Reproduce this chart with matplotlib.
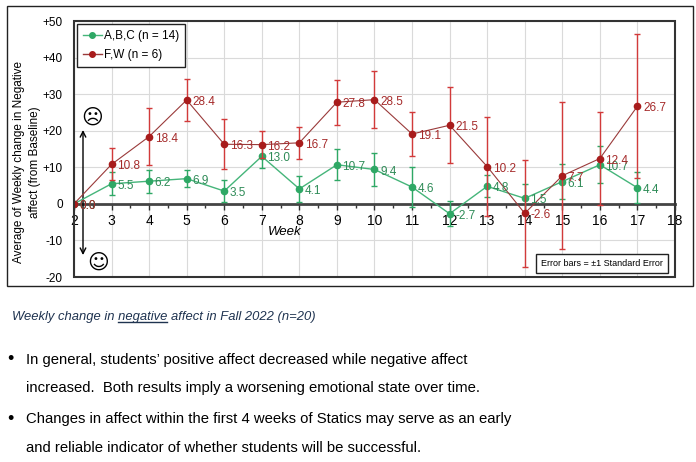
import matplotlib
matplotlib.use("Agg")
import matplotlib.pyplot as plt
from matplotlib.patches import Rectangle
from matplotlib.lines import Line2D
import numpy as np

plt.rcParams['font.family'] = ['Liberation Sans', 'DejaVu Sans']

# data
weeks = [2, 3, 4, 5, 6, 7, 8, 9, 10, 11, 12, 13, 14, 15, 16, 17]
abc = [0.0, 5.5, 6.2, 6.9, 3.5, 13.0, 4.1, 10.7, 9.4, 4.6, -2.7, 4.8, 1.5, 6.1, 10.7, 4.4]
abc_se = [0.0, 3.2, 3.1, 2.4, 3.1, 3.3, 3.6, 4.2, 4.5, 5.5, 3.4, 3.0, 3.9, 4.7, 5.0, 4.2]
fw = [0.0, 10.8, 18.4, 28.4, 16.3, 16.2, 16.7, 27.8, 28.5, 19.1, 21.5, 10.2, -2.6, 7.7, 12.4, 26.7]
fw_se = [0.0, 4.4, 7.7, 5.8, 6.8, 3.7, 4.4, 6.1, 7.7, 5.9, 10.4, 13.5, 14.6, 20.1, 12.6, 19.7]
abc_label = 'A,B,C (n = 14)'
fw_label = 'F,W (n = 6)'
yticks = [-20, -10, 0, 10, 20, 30, 40, 50]
ytick_labels = ['-20', '-10', '0', '+10', '+20', '+30', '+40', '+50']

caption = 'Weekly change in negative affect in Fall 2022 (n=20)'
bullet_lines = [
    ["In general, students\u2019 positive affect decreased while negative affect",
     "increased.  Both results imply a worsening emotional state over time."],
    ["Changes in affect within the first 4 weeks of Statics may serve as an early",
     "and reliable indicator of whether students will be successful."],
]

GREEN = '#2ea865'
GREEN_LINE = '#45b57a'
RED = '#a81c1c'
RED_LINE = '#9a3a3a'
RED_ERR = '#d23a3a'

fig = plt.figure(figsize=(6.96, 4.62), dpi=100)
ax = fig.add_axes([0.1063, 0.4004, 0.8635, 0.5541])

# outer frame round the chart
fig.add_artist(Rectangle((0.010, 0.381), 0.986, 0.606, transform=fig.transFigure,
                         fill=False, edgecolor='#222222', lw=1))

ax.errorbar(weeks, abc, yerr=abc_se, color=GREEN_LINE, ecolor=GREEN, lw=1, elinewidth=1,
            capsize=2, marker='o', ms=4.5, mfc=GREEN, mec=GREEN, zorder=3)
ax.errorbar(weeks, fw, yerr=fw_se, color=RED_LINE, ecolor=RED_ERR, lw=0.8, elinewidth=1,
            capsize=2, marker='o', ms=4.5, mfc=RED, mec=RED, zorder=4)

for w, v in zip(weeks, abc):
    ax.annotate(f'{v:.1f}', (w, v), xytext=(4, -1.5), textcoords='offset points',
                ha='left', va='center', fontsize=8.5, color='#2e8b57', zorder=5)
for w, v in zip(weeks, fw):
    ax.annotate(f'{v:.1f}', (w, v), xytext=(4, -1.5), textcoords='offset points',
                ha='left', va='center', fontsize=8.5, color='#a52a2a', zorder=5)

ax.set_xlim(2, 18)
ax.set_ylim(-20, 50)
ax.set_xticks(range(2, 19))
ax.set_xticks(np.arange(2.5, 18, 1), minor=True)
ax.set_xticklabels([str(w) for w in range(2, 19)], fontsize=9.5, style='italic')
ax.set_yticks(yticks)
ax.set_yticklabels(ytick_labels, fontsize=8.5)
ax.tick_params(axis='y', length=0, pad=8)
ax.tick_params(axis='x', which='major', length=4, width=1, color='#333333', pad=3)
ax.tick_params(axis='x', which='minor', length=3, width=1, color='#333333')
ax.grid(True, color='#dadada', lw=0.8, zorder=0)
ax.set_axisbelow(True)

for s in ['top', 'left', 'right']:
    ax.spines[s].set_visible(False)
ax.spines['bottom'].set_position(('data', 0))
ax.spines['bottom'].set_linewidth(2)
ax.spines['bottom'].set_color('#444444')
ax.add_patch(Rectangle((0, 0), 1, 1, transform=ax.transAxes, fill=False,
                       edgecolor='#333333', lw=1.5, clip_on=False, zorder=6))

ax.text(7.6, -7.8, 'Week', fontsize=9.5, style='italic', ha='center', va='center')

fig.text(0.039, 0.649, 'Average of Weekly change in Negative\naffect (from Baseline)',
         rotation=90, ha='center', va='center', fontsize=8.5, linespacing=1.45)

# arrow and faces
ax.annotate('', xy=(2.24, -14), xytext=(2.24, 20.2),
            arrowprops=dict(arrowstyle='<->', color='black', lw=1, shrinkA=0, shrinkB=0))
ax.text(2.48, 23.5, '\u2639', family='DejaVu Sans', fontsize=15, ha='center', va='center')
ax.text(2.64, -16.1, '\u263a', family='DejaVu Sans', fontsize=15, ha='center', va='center')

handles = [Line2D([], [], color=GREEN_LINE, marker='o', ms=4, mfc=GREEN, mec=GREEN, lw=1),
           Line2D([], [], color=RED_LINE, marker='o', ms=4, mfc=RED, mec=RED, lw=1)]
leg = ax.legend(handles, [abc_label, fw_label], loc='upper left', bbox_to_anchor=(0.005, 0.988),
                borderaxespad=0, fontsize=8.5, fancybox=False, handlelength=1.6,
                handletextpad=0.2, borderpad=0.5, labelspacing=0.6, framealpha=1)
leg.get_frame().set_edgecolor('#222222')
leg.get_frame().set_linewidth(1)
leg.set_zorder(7)

ax.text(0.879, 0.053, 'Error bars = \u00b11 Standard Error', transform=ax.transAxes,
        ha='center', va='center', fontsize=6.5, zorder=7,
        bbox=dict(boxstyle='square,pad=0.55', fc='white', ec='#222222', lw=1))

# text below the chart
cap_size = 9.4
cap = fig.text(12 / 696, 1 - 317 / 462, caption, fontsize=cap_size, style='italic',
               color='#1f3350', ha='left', va='center')
fig.canvas.draw()
r = fig.canvas.get_renderer()
pre = fig.text(12 / 696, 0.1, 'Weekly change in ', fontsize=cap_size, style='italic')
word = fig.text(12 / 696, 0.1, 'Weekly change in negative', fontsize=cap_size, style='italic')
x0 = pre.get_window_extent(r).x1
x1 = word.get_window_extent(r).x1
pre.remove()
word.remove()
yb = cap.get_window_extent(r).y0 + 1
fig.add_artist(Line2D([x0 / 696, x1 / 696], [yb / 462, yb / 462], transform=fig.transFigure,
                      color='#1f3350', lw=1))

line_y = [[360, 388], [419, 448]]
for lines, ys in zip(bullet_lines, line_y):
    fig.text(7 / 696, 1 - ys[0] / 462, '\u2022', fontsize=13, ha='left', va='center')
    for t, yy in zip(lines, ys):
        fig.text(26 / 696, 1 - yy / 462, t, fontsize=10.7, ha='left', va='center')

fig.savefig('out.png', dpi=100)
